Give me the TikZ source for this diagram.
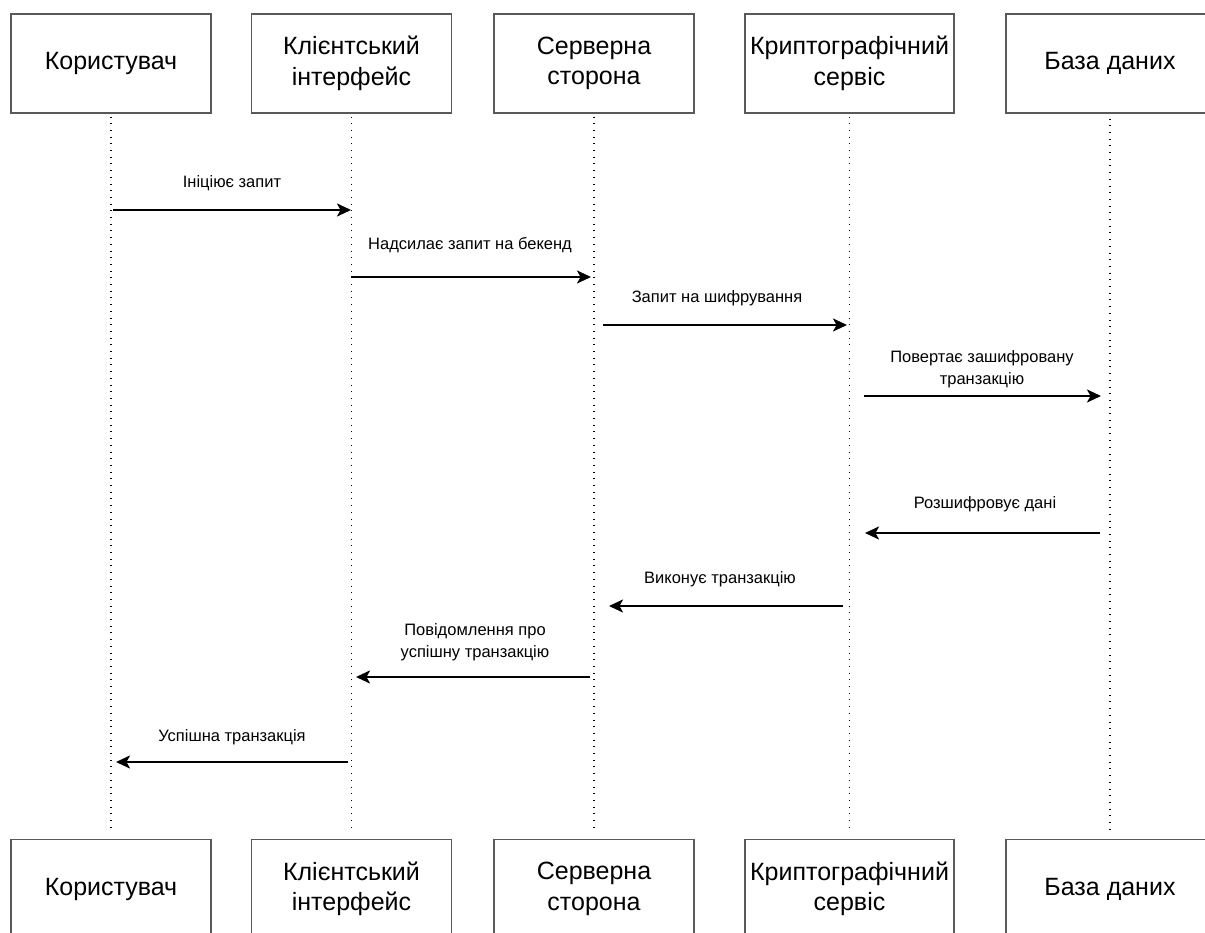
\documentclass[tikz,border=0pt]{standalone}
\usepackage{fontspec}
\setmainfont{Liberation Sans}
\usetikzlibrary{arrows.meta}
\begin{document}
\begin{tikzpicture}[x=1pt,y=-1pt,
  actor/.style={draw=black!65, line width=1.1pt, fill=white, rectangle,
    minimum width=200pt, minimum height=99pt, align=center,
    font=\fontsize{25}{30.5}\selectfont, inner sep=0pt},
  lifeline/.style={black, line width=1.3pt, dash pattern=on 1pt off 5.7pt},
  msg/.style={black, line width=2.2pt, -{Stealth[length=14pt, width=13pt, inset=3.5pt]}},
  msglabel/.style={align=center, font=\fontsize{16.5}{22}\selectfont, inner sep=0pt}]
\clip (0,0) rectangle (1205,933);
\fill[white] (0,0) rectangle (1205,933);

% participants, top row
\node[actor] (u)  at (111,63.5)   {Користувач};
\node[actor] (c)  at (351.5,63.5) {Клієнтський\\інтерфейс};
\node[actor] (s)  at (594,63.5)   {Серверна\\сторона};
\node[actor, minimum width=209pt] (k) at (849.5,63.5) {Криптографічний\\сервіс};
\node[actor, minimum width=208pt] (d) at (1110,63.5) {База даних};

% participants, bottom row
\node[actor] (ub)  at (111,889)   {Користувач};
\node[actor] (cb)  at (351.5,889) {Клієнтський\\інтерфейс};
\node[actor] (sb)  at (594,889)   {Серверна\\сторона};
\node[actor, minimum width=209pt] (kb) at (849.5,889) {Криптографічний\\сервіс};
\node[actor, minimum width=208pt] (db) at (1110,889) {База даних};

% lifelines
\draw[lifeline] ([yshift=-3pt]u.south) -- ([yshift=6pt]ub.north);
\draw[lifeline] ([yshift=-3pt]c.south) -- ([yshift=6pt]cb.north);
\draw[lifeline] ([yshift=-3pt]s.south) -- ([yshift=6pt]sb.north);
\draw[lifeline] ([yshift=-3pt]k.south) -- ([yshift=6pt]kb.north);
\draw[lifeline] ([yshift=-5pt]d.south) -- ([yshift=6pt]db.north);

% message end points
\coordinate (m1a) at (113,210);  \coordinate (m1b) at (351,210);
\coordinate (m2a) at (351,277);  \coordinate (m2b) at (591,277);
\coordinate (m3a) at (603,325);  \coordinate (m3b) at (847,325);
\coordinate (m4a) at (864,396);  \coordinate (m4b) at (1101,396);
\coordinate (m5a) at (1100,533); \coordinate (m5b) at (865,533);
\coordinate (m6a) at (843,606);  \coordinate (m6b) at (609,606);
\coordinate (m7a) at (590,677);  \coordinate (m7b) at (356,677);
\coordinate (m8a) at (348,762);  \coordinate (m8b) at (116,762);

% messages
\draw[msg] (m1a) -- (m1b);
\draw[msg] (m2a) -- (m2b);
\draw[msg] (m3a) -- (m3b);
\draw[msg] (m4a) -- (m4b);
\draw[msg] (m5a) -- (m5b);
\draw[msg] (m6a) -- (m6b);
\draw[msg] (m7a) -- (m7b);
\draw[msg] (m8a) -- (m8b);

% message labels
\node[msglabel] (l1) at (232,183) {Ініціює запит};
\node[msglabel] (l2) at (470,245) {Надсилає запит на бекенд};
\node[msglabel] (l3) at (717,298) {Запит на шифрування};
\node[msglabel] (l4) at (982,369) {Повертає зашифровану\\транзакцію};
\node[msglabel] (l5) at (985,504) {Розшифровує дані};
\node[msglabel] (l6) at (720,579) {Виконує транзакцію};
\node[msglabel] (l7) at (475,642) {Повідомлення про\\успішну транзакцію};
\node[msglabel] (l8) at (232,737) {Успішна транзакція};
\end{tikzpicture}
\end{document}
